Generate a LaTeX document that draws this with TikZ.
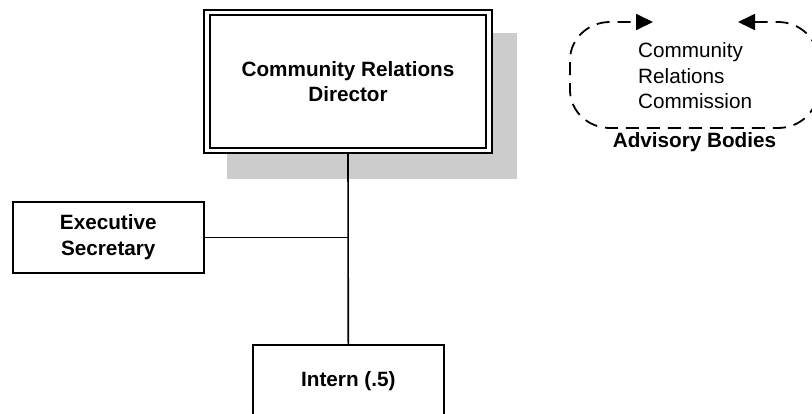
\documentclass[tikz,border=0pt]{standalone}
\usepackage{fontspec}
\setmainfont{Liberation Sans}
\usetikzlibrary{arrows.meta,backgrounds}
\definecolor{shadowgray}{RGB}{204,204,204}
\begin{document}
\begin{tikzpicture}[x=1pt,y=-1pt,
  txt/.style={font=\fontsize{20.7}{25.5}\selectfont},
  btxt/.style={font=\fontsize{20.7}{25.5}\selectfont\bfseries},
  posbox/.style={btxt, draw=black, line width=1.9pt, fill=white,
    minimum width=191pt, minimum height=71pt, inner sep=0pt, align=center},
  dirbox/.style={btxt, draw=black, line width=2pt, double=white,
    double distance=3.2pt, fill=white, minimum width=282pt, minimum height=138pt,
    inner sep=0pt, align=center},
  conn/.style={draw=black, line width=1.6pt},
  advloop/.style={draw=black, line width=1.8pt, dash pattern=on 13pt off 8pt,
    {Triangle[length=17pt,width=16pt]}-{Triangle[length=17pt,width=16pt]}}]
\useasboundingbox (0,0) rectangle (812,413);
\clip (0,0) rectangle (812,413);

% nodes
\node[dirbox] (dir) at (348,81.6) {Community Relations\\Director};
\node[posbox] (exec) at (108.3,237.3) {Executive\\Secretary};
\node[posbox] (int) at (348.3,380.7) {Intern (.5)};
\node[txt, anchor=north west, align=left, inner sep=0pt] (crc) at (638,42.5)
  {Community\\Relations\\Commission};
\node[btxt, anchor=base, inner sep=0pt] (adv) at (694.5,147) {Advisory Bodies};

% shadow and connectors behind the boxes
\begin{scope}[on background layer]
  \fill[shadowgray] (227,33) rectangle (517,179);
  \draw[conn] (dir.south) -- (int.north);
  \draw[conn] (exec.east) -- (exec.east -| dir.south);
\end{scope}

% advisory loop
\draw[advloop] (738,22) -- (778,22)
  arc[start angle=90, end angle=0, x radius=40pt, y radius=38pt]
  -- (818,90)
  arc[start angle=0, end angle=-90, x radius=40pt, y radius=38pt]
  -- (610,128)
  arc[start angle=270, end angle=180, x radius=40pt, y radius=38pt]
  -- (570,60)
  arc[start angle=180, end angle=90, x radius=40pt, y radius=38pt]
  -- (653,22);
\end{tikzpicture}
\end{document}
